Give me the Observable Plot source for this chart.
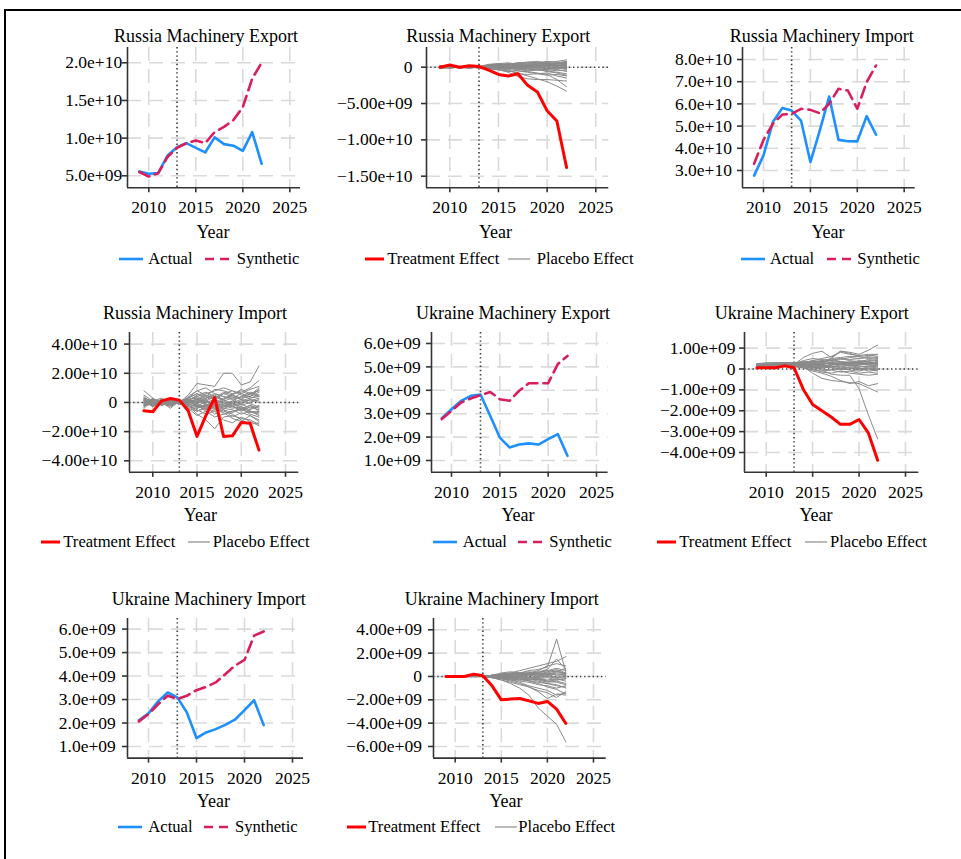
<!DOCTYPE html>
<html><head><meta charset="utf-8">
<script src="https://cdn.jsdelivr.net/npm/d3@7"></script>
<script src="https://cdn.jsdelivr.net/npm/@observablehq/plot@0.6"></script>
<style>
body{margin:0;background:#fff;}
#fig{position:relative;width:961px;height:859px;overflow:hidden;font-family:"Liberation Serif","Times New Roman",serif;color:#000;background:#fff;}
.abs{position:absolute;white-space:nowrap;line-height:1;}
</style></head><body><div id="fig"></div>
<script>
// ---------- data (values in units of 1e9 US$) ----------
const years = [2009,2010,2011,2012,2013,2014,2015,2016,2017,2018,2019,2020,2021,2022];
const xTicks = [2010,2015,2020,2025];
const treatYear = 2013;

const ruExportActual    = [5.58,5.27,5.35,7.7,8.8,9.33,8.7,8.1,10.1,9.2,9.0,8.3,10.8,6.6];
const ruExportSynthetic = [5.5,4.9,5.35,7.5,8.7,9.33,9.7,9.33,10.8,11.5,12.4,14.1,17.9,20.0];
const ruExportEffect    = [0,0.3,0,0.2,0.1,-0.4,-1.0,-1.2,-0.9,-2.5,-3.4,-6.0,-7.4,-13.8];
const ruExportPlacebo = [
[0.1,-0.1,0.1,0.0,-0.1,0.1,0.2,0.3,0.4,0.3,0.5,0.6,0.8,1.0],
[-0.1,0.1,0.0,0.1,0.0,-0.2,-0.3,-0.5,-0.8,-1.2,-1.6,-2.0,-2.6,-3.3],
[0.0,0.1,-0.1,0.0,0.1,-0.1,-0.3,-0.7,-1.3,-1.6,-1.7,-1.7,-1.8,-1.9],
[0.2,0.0,0.1,-0.1,0.0,0.1,-0.1,-0.3,-0.5,-0.6,-0.8,-1.0,-1.7,-2.7],
[-0.2,0.1,0.0,0.2,-0.1,0.3,0.4,0.2,0.5,0.6,0.4,0.5,0.6,0.7],
[0.1,0.2,-0.1,0.0,0.1,0.2,0.1,0.3,0.2,0.4,0.3,0.2,0.4,0.5],
[0.0,-0.1,0.1,0.1,-0.1,0.0,-0.2,-0.1,-0.3,-0.2,-0.4,-0.3,-0.5,-0.4],
[0.1,0.0,0.0,-0.1,0.1,0.1,0.3,0.5,0.3,0.2,0.4,0.6,0.3,0.2],
[-0.1,0.0,0.1,0.0,0.0,-0.1,0.0,0.2,0.1,-0.1,0.0,0.1,-0.2,-0.1],
[0.0,0.1,0.0,0.1,-0.1,0.2,0.2,0.0,-0.2,-0.4,-0.3,-0.6,-0.8,-1.1],
[0.2,-0.1,0.0,-0.1,0.1,0.4,0.5,0.6,0.4,0.7,0.6,0.8,0.7,0.6],
[-0.1,0.1,-0.1,0.1,0.0,-0.2,-0.4,-0.6,-0.5,-0.7,-0.9,-0.8,-1.2,-1.5],
[0.0,0.0,0.1,0.0,0.0,0.1,0.1,0.1,0.2,0.1,0.2,0.3,0.2,0.3],
[0.1,-0.1,0.0,0.0,0.1,0.0,-0.1,-0.2,-0.1,-0.3,-0.2,-0.4,-0.3,-0.6],
[-0.2,0.0,0.1,0.1,-0.1,0.2,0.0,0.3,0.4,0.2,0.1,0.3,0.5,0.4],
[0.0,0.1,-0.1,0.0,0.1,-0.1,0.1,-0.1,0.0,0.2,0.3,0.1,0.0,-0.2],
[0.1,0.0,0.0,0.1,0.0,0.3,0.2,0.4,0.6,0.5,0.7,0.5,0.6,0.8],
[-0.1,0.0,0.0,-0.1,0.0,-0.1,-0.2,-0.4,-0.9,-1.0,-0.9,-1.1,-1.0,-1.2],
[0.0,0.2,0.0,0.0,-0.1,0.0,0.2,0.1,0.0,-0.1,0.1,-0.2,-0.1,0.1],
[0.1,0.1,-0.1,0.0,0.0,0.2,0.3,0.2,0.1,0.3,0.2,0.4,0.2,0.3],
[0.0,0.1,0.0,-0.1,0.0,0.1,0.2,0.1,0.3,0.2,0.1,0.2,0.3,0.1],
[0.1,0.0,-0.1,0.0,0.1,-0.1,-0.1,0.0,-0.2,-0.1,-0.3,-0.2,-0.1,-0.3],
[-0.1,0.1,0.1,0.0,0.0,0.2,0.4,0.3,0.2,0.4,0.5,0.3,0.5,0.6],
[0.0,-0.1,0.0,0.1,-0.1,0.0,0.1,0.0,0.1,0.0,-0.1,0.0,0.1,0.2],
[0.2,0.1,0.0,0.0,0.1,0.1,-0.1,-0.2,-0.3,-0.5,-0.4,-0.5,-0.7,-0.9],
[0.0,0.0,0.1,0.1,0.0,0.3,0.5,0.4,0.6,0.7,0.8,0.6,0.5,0.4],
[-0.1,-0.1,0.0,0.0,0.1,-0.2,-0.1,0.1,0.0,0.1,-0.1,-0.2,0.0,-0.1],
[0.1,0.1,0.0,-0.1,0.0,0.0,0.2,0.3,0.1,0.0,0.2,0.4,0.2,0.5]
];

const ruImportActual    = [27.7,36.8,51.8,58.1,57.0,52.5,33.8,48.0,63.3,43.8,43.2,43.1,54.5,46.1];
const ruImportSynthetic = [33.0,43.8,51.0,55.2,55.5,57.8,57.3,55.8,60.0,66.8,66.0,57.8,69.8,77.3];
const ruImportEffect    = [-5.7,-6.4,1.1,2.7,1.6,-5.7,-23.3,-9.0,3.4,-23.3,-22.9,-13.7,-14.2,-32.7];
const ruImportPlacebo = [
[8,3,-2,1,0,5,13,12,11,20,20,12,14,25],
[2,-1,1,-2,0,3,6,4,9,8,6,7,10,15],
[-3,2,0,-4,1,-2,-8,-12,-18,-10,-9,-11,-12,-15],
[1,-2,2,0,-1,4,8,5,3,6,8,5,4,9],
[-2,3,-1,2,0,-4,-6,-3,-8,-5,-10,-7,-9,-13],
[4,-1,0,-3,1,2,-3,1,4,2,5,3,6,8],
[0,2,-2,1,0,-1,3,-2,0,-4,-2,-6,-3,-5],
[-4,1,3,-1,0,1,5,7,4,2,6,8,5,10],
[3,-3,1,2,-1,-3,-2,-5,-2,-8,-6,-4,-8,-10],
[1,0,-1,-2,1,2,0,3,6,4,2,4,7,5],
[-1,2,1,0,0,-2,-5,-8,-6,-12,-14,-10,-13,-16],
[2,-2,0,1,0,1,2,0,-1,1,3,-2,0,2],
[-2,0,2,-1,1,3,6,2,-2,-3,0,2,-1,-3],
[5,1,-1,0,-1,-1,-3,-4,-6,-4,-5,-8,-6,-7],
[0,-1,0,2,0,2,4,6,8,10,8,6,9,11],
[-3,3,-2,0,1,-4,-9,-6,-3,-7,-11,-13,-9,-12],
[1,1,1,-1,0,0,-1,3,5,2,-1,1,3,4],
[-1,-2,2,1,-1,2,-4,-2,1,-2,-4,-3,-6,-8],
[3,0,-1,0,1,-2,1,4,2,6,4,2,1,3],
[-2,1,0,-2,0,1,-2,-6,-10,-8,-6,-5,-7,-6],
[2,-1,1,1,0,-1,2,1,-3,-1,1,-1,2,0],
[0,2,-1,0,-1,3,8,10,6,4,3,6,4,7],
[-1,0,2,1,0,-3,-4,-1,-4,-6,-8,-12,-15,-14],
[1,-3,0,-1,1,1,-2,-3,2,0,-3,-5,-2,-4],
[1,2,-1,0,1,2,4,1,-2,3,5,2,6,4],
[-2,-1,1,1,0,-1,-3,-2,-5,-3,-1,-4,-2,-6],
[3,1,0,-1,0,0,2,5,3,7,5,9,6,8],
[0,-2,1,2,-1,-2,-6,-4,-2,-5,-7,-4,-6,-9],
[-1,1,-2,0,0,1,-1,2,4,1,-2,0,2,1],
[2,0,1,-1,1,-3,-1,-3,-1,-2,0,-3,-5,-2],
[-3,2,0,1,-1,2,3,0,2,-1,1,4,3,5],
[0,1,-1,-2,0,0,1,-1,-4,-2,-3,-1,-4,-3]
];

const uaExportActual    = [2.81,3.19,3.55,3.76,3.82,2.91,1.98,1.56,1.68,1.73,1.68,1.91,2.13,1.2];
const uaExportSynthetic = [2.77,3.12,3.48,3.65,3.79,3.93,3.62,3.55,3.98,4.3,4.3,4.3,5.12,5.47];
const uaExportEffect    = [0.06,0.06,0.06,0.15,0.06,-0.98,-1.7,-2.0,-2.3,-2.65,-2.65,-2.42,-3.06,-4.37];
const uaExportPlacebo = [
[0.1,0.2,0.2,0.25,0.2,0.55,0.75,0.85,0.55,0.85,0.8,0.7,0.9,1.15],
[0.2,0.15,0.2,0.2,0.15,0.3,0.4,0.5,0.6,0.8,0.7,0.65,0.7,0.7],
[0.1,0.2,0.25,0.2,0.2,0.2,0.1,-0.05,-0.25,-0.3,-0.3,-0.95,-2.2,-3.35],
[0.15,0.1,0.2,0.3,0.25,0.1,-0.2,-0.45,-0.55,-0.6,-0.65,-0.7,-0.9,-1.1],
[0.05,0.1,0.15,0.2,0.2,0.05,-0.1,-0.2,-0.35,-0.55,-0.7,-0.6,-0.8,-0.7],
[0.2,0.25,0.3,0.3,0.25,0.3,0.35,0.4,0.5,0.55,0.6,0.6,0.65,0.6],
[0.1,0.1,0.15,0.2,0.2,0.25,0.2,0.3,0.25,0.3,0.35,0.3,0.4,0.45],
[0.25,0.2,0.2,0.25,0.3,0.2,0.3,0.2,0.3,0.2,0.25,0.3,0.2,0.25],
[0.1,0.15,0.1,0.2,0.15,0.1,0.05,0.1,0.15,0.05,0.1,0.05,0.0,-0.05],
[0.2,0.2,0.25,0.2,0.2,0.15,0.2,0.25,0.5,0.85,0.75,0.6,0.5,0.55],
[0.05,0.1,0.1,0.15,0.1,0.05,-0.05,-0.1,-0.05,-0.15,-0.1,-0.2,-0.15,-0.2],
[0.15,0.2,0.2,0.3,0.3,0.35,0.3,0.35,0.4,0.35,0.3,0.4,0.35,0.3],
[0.2,0.15,0.25,0.25,0.2,0.2,0.15,0.15,0.1,0.2,0.15,0.1,0.15,0.1],
[0.1,0.2,0.15,0.2,0.25,0.3,0.25,0.2,0.35,0.45,0.55,0.5,0.6,0.7],
[0.15,0.1,0.2,0.15,0.2,0.1,0.15,0.05,0.1,0.0,0.05,-0.05,0.05,0.0],
[0.2,0.25,0.2,0.2,0.3,0.25,0.35,0.3,0.25,0.3,0.2,0.25,0.3,0.35],
[0.1,0.1,0.2,0.25,0.2,0.15,0.1,0.2,0.15,0.1,0.2,0.15,0.1,0.2],
[0.25,0.3,0.3,0.3,0.25,0.4,0.5,0.45,0.4,0.5,0.45,0.5,0.55,0.5],
[0.05,0.15,0.15,0.2,0.15,0.1,0.0,-0.15,-0.2,-0.1,-0.2,-0.25,-0.3,-0.25],
[0.2,0.2,0.15,0.25,0.25,0.2,0.25,0.15,0.2,0.25,0.3,0.25,0.2,0.15],
[0.1,0.15,0.2,0.2,0.2,0.2,0.25,0.3,0.2,0.25,0.15,0.2,0.3,0.2],
[0.2,0.2,0.25,0.3,0.25,0.15,0.1,0.05,0.1,0.15,0.05,0.0,0.1,0.05],
[0.15,0.2,0.2,0.2,0.2,0.3,0.4,0.35,0.45,0.5,0.4,0.35,0.45,0.4],
[0.1,0.1,0.15,0.15,0.15,0.05,0.1,0.15,0.05,-0.05,0.0,0.05,-0.1,-0.05],
[0.25,0.2,0.25,0.3,0.3,0.25,0.2,0.25,0.3,0.35,0.3,0.2,0.25,0.3],
[0.1,0.15,0.15,0.2,0.2,0.1,0.2,0.1,0.2,0.3,0.25,0.3,0.35,0.25],
[0.2,0.25,0.2,0.25,0.2,0.15,0.05,0.0,-0.05,0.05,-0.05,-0.1,0.0,-0.1],
[0.15,0.15,0.25,0.2,0.25,0.35,0.3,0.4,0.3,0.2,0.3,0.35,0.25,0.35]
];

const uaImportActual    = [2.12,2.41,2.92,3.3,3.09,2.45,1.36,1.6,1.74,1.92,2.14,2.55,2.97,1.91];
const uaImportSynthetic = [2.07,2.38,2.80,3.16,3.02,3.16,3.4,3.54,3.73,4.08,4.44,4.69,5.72,5.9];
const uaImportEffect    = [0,0,0,0.2,0.06,-0.8,-2.0,-1.94,-1.89,-2.09,-2.31,-2.14,-2.8,-4.03];
const uaImportPlacebo = [
[0,0,0,0,0,-0.1,-0.3,-0.6,-1.0,-1.6,-2.7,-3.4,-4.1,-5.6],
[0,0.05,0,0.05,0,0.1,0.15,0.2,0.3,0.5,0.6,0.8,3.2,0.4],
[0,0,0.05,0,0,0.1,0.2,0.3,0.5,0.7,0.9,1.1,1.3,1.7],
[0.05,0,0,0.05,0,0.05,0.1,0.2,0.2,0.3,0.4,0.6,1.5,0.6],
[0,0,-0.05,0,0,-0.1,-0.2,-0.4,-0.6,-0.9,-1.3,-1.9,-1.5,-1.6],
[0,-0.05,0,0,0,-0.05,-0.2,-0.3,-0.5,-0.8,-1.0,-1.2,-1.6,-1.4],
[0,0,0,-0.05,0,0.05,0.1,0.0,-0.1,-0.2,-0.4,-0.6,-0.8,-0.9],
[0.05,0,0,0,0,0.1,0.2,0.3,0.2,0.1,0.2,0.4,0.6,0.3],
[0,0,0.05,0,0,0.0,-0.1,-0.2,-0.3,-0.2,-0.3,-0.5,-0.4,-0.6],
[0,0.05,0,0,0,0.1,0.3,0.4,0.3,0.2,0.1,0.3,0.5,0.2],
[0,0,0,0.05,0,-0.05,-0.1,-0.1,-0.2,-0.4,-0.6,-0.9,-1.1,-1.5],
[0,0,0,0,0,0.0,0.05,0.1,0.15,0.1,0.2,0.1,0.2,0.1],
[0.05,0,0,0,0,-0.1,-0.1,-0.2,-0.1,-0.3,-0.2,-0.4,-0.3,-0.2],
[0,0,0.05,0,0,0.1,0.0,0.2,0.3,0.4,0.3,0.5,0.4,0.7],
[0,-0.05,0,0,0,0.0,-0.2,-0.3,-0.4,-0.5,-0.7,-0.8,-1.0,-0.8],
[0,0,0,0,0,0.05,0.1,0.05,0.0,-0.1,0.0,0.2,-0.1,0.0],
[0.05,0,0,0,0,0.1,0.2,0.1,0.2,0.3,0.5,0.9,1.1,0.9],
[0,0,0,0.05,0,-0.05,0.0,-0.1,0.0,-0.1,-0.2,-0.1,-0.3,-0.2],
[0,0.05,0,0,0,0.0,0.1,0.2,0.1,0.3,0.2,0.3,0.1,0.2],
[0,0,0,0,0,-0.1,-0.3,-0.5,-0.7,-0.9,-1.2,-1.4,-1.8,-1.3],
[0,0,0,0,0,0.05,0.1,0.15,0.1,0.2,0.1,0.15,0.3,0.25],
[0,0,0,0,0,-0.05,-0.05,-0.1,-0.15,-0.1,-0.2,-0.3,-0.2,-0.4],
[0,0,0,0,0,0.1,0.15,0.2,0.25,0.3,0.35,0.5,0.7,0.5],
[0,0,0,0,0,-0.05,-0.15,-0.2,-0.3,-0.35,-0.5,-0.6,-0.7,-1.0],
[0,0,0,0,0,0.0,0.05,0.0,0.05,0.1,0.0,0.05,-0.05,0.1],
[0,0,0,0,0,0.05,0.0,-0.05,0.0,-0.05,-0.1,0.0,-0.15,-0.1],
[0,0,0,0,0,0.1,0.2,0.25,0.3,0.2,0.3,0.2,0.4,0.3],
[0,0,0,0,0,-0.1,-0.15,-0.25,-0.2,-0.3,-0.25,-0.4,-0.5,-0.7]
];

// tick values (1e9 units) and their labels
const ticksRuExp = [5,10,15,20];         const labRuExp = ["5.0e+09","1.0e+10","1.5e+10","2.0e+10"];
const ticksRuExpGap = [-15,-10,-5,0];    const labRuExpGap = ["\u22121.50e+10","\u22121.00e+10","\u22125.00e+09","0"];
const ticksRuImp = [30,40,50,60,70,80];  const labRuImp = ["3.0e+10","4.0e+10","5.0e+10","6.0e+10","7.0e+10","8.0e+10"];
const ticksRuImpGap = [-40,-20,0,20,40]; const labRuImpGap = ["\u22124.00e+10","\u22122.00e+10","0","2.00e+10","4.00e+10"];
const ticksUaExp = [1,2,3,4,5,6];        const labUaExp = ["1.0e+09","2.0e+09","3.0e+09","4.0e+09","5.0e+09","6.0e+09"];
const ticksUaExpGap = [-4,-3,-2,-1,0,1]; const labUaExpGap = ["\u22124.00e+09","\u22123.00e+09","\u22122.00e+09","\u22121.00e+09","0","1.00e+09"];
const ticksUaImp = [1,2,3,4,5,6];        const labUaImp = ["1.0e+09","2.0e+09","3.0e+09","4.0e+09","5.0e+09","6.0e+09"];
const ticksUaImpGap = [-6,-4,-2,0,2,4];  const labUaImpGap = ["\u22126.00e+09","\u22124.00e+09","\u22122.00e+09","0","2.00e+09","4.00e+09"];

// ---------- layout ----------
const rows = [
  {T:47,    B:187.3, title:41.7, year:237.8, legend:265.4},
  {T:331.7, B:471.5, title:319,  year:521,   legend:548.2},
  {T:617.7, B:757.3, title:605.2,year:807.5, legend:833.3}
];
const panels = [
 {row:0, kind:"level", title:"Russia Machinery Export", a:ruExportActual, s:ruExportSynthetic, yt:ticksRuExp, yl:labRuExp,
  L:127, R:300, xa:[2010,148.3], xb:[2025,289.3], ya:[20,62.3], yb:[5,175.3], labR:121.7, titleX:206, yearX:213, leg:[119.3,148.3,205,236.7]},
 {row:0, kind:"gap", title:"Russia Machinery Export", e:ruExportEffect, p:ruExportPlacebo, yt:ticksRuExpGap, yl:labRuExpGap,
  L:425.7, R:608, xa:[2010,449], xb:[2025,595], ya:[0,66.7], yb:[-15,175.7], labR:411.7, titleX:498.3, yearX:495.5, leg:[365,387.3,508.3,536.7]},
 {row:0, kind:"level", title:"Russia Machinery Import", a:ruImportActual, s:ruImportSynthetic, yt:ticksRuImp, yl:labRuImp,
  L:742.3, R:915, xa:[2010,763.3], xb:[2025,904], ya:[80,59], yb:[30,170], labR:731.7, titleX:821.7, yearX:828, leg:[740.7,770,826.7,857.3]},
 {row:1, kind:"gap", title:"Russia Machinery Import", e:ruImportEffect, p:ruImportPlacebo, yt:ticksRuImpGap, yl:labRuImpGap,
  L:129, R:298.3, xa:[2010,152.3], xb:[2025,285], ya:[40,343.3], yb:[-40,460], labR:116.7, titleX:195, yearX:200.3, leg:[40.7,63.3,188.3,212.7]},
 {row:1, kind:"level", title:"Ukraine Machinery Export", a:uaExportActual, s:uaExportSynthetic, yt:ticksUaExp, yl:labUaExp,
  L:430.7, R:607.3, xa:[2010,450.7], xb:[2025,595.7], ya:[6,342.7], yb:[1,459.7], labR:420, titleX:513, yearX:518, leg:[433.3,462.7,518.3,549.3]},
 {row:1, kind:"gap", title:"Ukraine Machinery Export", e:uaExportEffect, p:uaExportPlacebo, yt:ticksUaExpGap, yl:labUaExpGap,
  L:744, R:918.3, xa:[2010,765.7], xb:[2025,905], ya:[1,347.3], yb:[-4,451.7], labR:735, titleX:811.7, yearX:816, leg:[656.7,679.3,805,830]},
 {row:2, kind:"level", title:"Ukraine Machinery Import", a:uaImportActual, s:uaImportSynthetic, yt:ticksUaImp, yl:labUaImp,
  L:126.7, R:302.7, xa:[2010,147.7], xb:[2025,291.7], ya:[6,628.3], yb:[1,745.7], labR:115, titleX:208.8, yearX:213.3, leg:[118.3,148.3,204,235]},
 {row:2, kind:"gap", title:"Ukraine Machinery Import", e:uaImportEffect, p:uaImportPlacebo, yt:ticksUaImpGap, yl:labUaImpGap,
  L:433.3, R:606, xa:[2010,455], xb:[2025,593.3], ya:[4,629], yb:[-6,745.7], labR:421.7, titleX:501.7, yearX:506, leg:[346.7,368.3,495,518.3]}
];

const C = {blue:"#1e8fff", synth:"#d81f5c", red:"#ff0000", gray:"#8a8a8a", axis:"#343434", grid:"#dadada", dot:"#3a3a3a"};
const FS = {title:18, tick:17.5, year:18, legend:16.6};

const fig = document.getElementById("fig");

function addDiv(style){ const d=document.createElement("div"); Object.assign(d.style, style); fig.appendChild(d); return d; }
function addText(txt, x, baseline, size, center){
  const d = document.createElement("div");
  d.className = "abs"; d.textContent = txt;
  d.style.fontSize = size + "px";
  d.style.top = (baseline - 0.8375*size) + "px";
  d.style.left = x + "px";
  if (center) d.style.transform = "translateX(-50%)";
  fig.appendChild(d);
}
function addSwatch(x, cy, len, color, width, dash){
  const ns = "http://www.w3.org/2000/svg";
  const s = document.createElementNS(ns, "svg");
  s.setAttribute("width", len); s.setAttribute("height", 8);
  s.style.position = "absolute"; s.style.left = x + "px"; s.style.top = (cy - 4) + "px";
  const l = document.createElementNS(ns, "line");
  l.setAttribute("x1", 0); l.setAttribute("x2", len); l.setAttribute("y1", 4); l.setAttribute("y2", 4);
  l.setAttribute("stroke", color); l.setAttribute("stroke-width", width);
  if (dash) l.setAttribute("stroke-dasharray", dash);
  s.appendChild(l); fig.appendChild(s);
}

// frame lines of the figure
addDiv({position:"absolute", left:"4px", top:"9px", width:"957px", height:"2px", background:"#000"});
addDiv({position:"absolute", left:"4px", top:"9px", width:"2px", height:"850px", background:"#000"});

const mL = 120, mR = 6, mT = 6, mB = 40;

panels.forEach(p => {
  const r = rows[p.row];
  const kx = (p.xb[0]-p.xa[0])/(p.xb[1]-p.xa[1]);
  const x0 = p.xa[0] + (p.L - p.xa[1])*kx, x1 = p.xa[0] + (p.R - p.xa[1])*kx;
  const ky = (p.yb[0]-p.ya[0])/(p.yb[1]-p.ya[1]);
  const yTop = p.ya[0] + (r.T - p.ya[1])*ky, yBot = p.ya[0] + (r.B - p.ya[1])*ky;
  const W = mL + (p.R - p.L) + mR, H = mT + (r.B - r.T) + mB;
  const gap = p.L - p.labR;

  const marks = [
    Plot.ruleY(p.yt, {stroke:C.grid, strokeWidth:1.6, strokeDasharray:"14,8"}),
    Plot.ruleX(xTicks, {stroke:C.grid, strokeWidth:1.6, strokeDasharray:"14,8"}),
    Plot.ruleX([treatYear], {stroke:C.dot, strokeWidth:1.6, strokeDasharray:"1.4,2.8"})
  ];
  if (p.kind === "gap") {
    marks.push(Plot.ruleY([0], {stroke:C.dot, strokeWidth:1.6, strokeDasharray:"1.4,2.8"}));
    const tidy = p.p.flatMap((vals, id) => vals.map((v, i) => ({year: years[i], v, id})));
    marks.push(Plot.line(tidy, {x:"year", y:"v", z:"id", stroke:C.gray, strokeWidth:1, strokeLinejoin:"round"}));
    marks.push(Plot.lineY(p.e, {x: years, stroke:C.red, strokeWidth:3, strokeLinejoin:"round"}));
  } else {
    marks.push(Plot.lineY(p.a, {x: years, stroke:C.blue, strokeWidth:2.6, strokeLinejoin:"round"}));
    marks.push(Plot.lineY(p.s, {x: years, stroke:C.synth, strokeWidth:2.6, strokeDasharray:"11,6", strokeLinejoin:"round"}));
  }
  marks.push(
    Plot.ruleX([x0], {stroke:C.axis, strokeWidth:1.6}),
    Plot.ruleY([yBot], {stroke:C.axis, strokeWidth:1.6}),
    Plot.axisX({ticks:xTicks, tickSize:5, tickPadding:8, tickFormat:d => String(d), stroke:C.axis, strokeWidth:1.6, fill:"#000", label:null}),
    Plot.axisY({ticks:p.yt, tickSize:5, tickPadding:Math.max(0, gap-5), tickFormat:d => p.yl[p.yt.indexOf(d)], stroke:C.axis, strokeWidth:1.6, fill:"#000", label:null})
  );

  const svg = Plot.plot({
    width: W, height: H,
    marginLeft: mL, marginRight: mR, marginTop: mT, marginBottom: mB,
    x: {domain:[x0, x1]},
    y: {domain:[yBot, yTop]},
    style: {fontFamily:'"Liberation Serif","Times New Roman",serif', fontSize: FS.tick + "px", background:"none", maxWidth:"none", overflow:"visible"},
    marks
  });
  const holder = addDiv({position:"absolute", left:(p.L - mL) + "px", top:(r.T - mT) + "px", width: W + "px", height: H + "px"});
  holder.appendChild(svg);

  addText(p.title, p.titleX, r.title, FS.title, true);
  addText("Year", p.yearX, r.year, FS.year, true);
  const cy = r.legend - 6.4;
  if (p.kind === "gap") {
    addSwatch(p.leg[0], cy, 19, C.red, 3);
    addText("Treatment Effect", p.leg[1], r.legend, FS.legend, false);
    addSwatch(p.leg[2], cy, 22, C.gray, 1.2);
    addText("Placebo Effect", p.leg[3], r.legend, FS.legend, false);
  } else {
    addSwatch(p.leg[0], cy, 24, C.blue, 2.6);
    addText("Actual", p.leg[1], r.legend, FS.legend, false);
    addSwatch(p.leg[2], cy, 24, C.synth, 2.6, "9,6");
    addText("Synthetic", p.leg[3], r.legend, FS.legend, false);
  }
});
</script></body></html>
